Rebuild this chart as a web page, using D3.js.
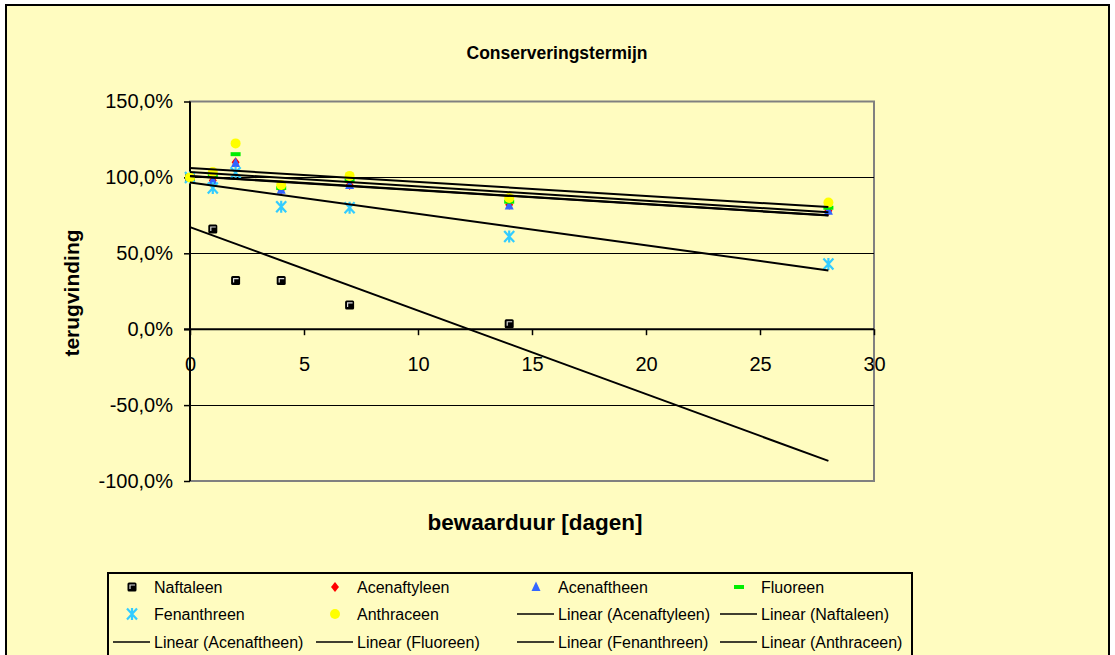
<!DOCTYPE html>
<html>
<head>
<meta charset="utf-8">
<script src="https://cdn.jsdelivr.net/npm/d3@7"></script>
<style>
  html, body { margin: 0; padding: 0; background: #ffffff; }
  svg { display: block; font-family: Arial, "Liberation Sans", sans-serif; }
</style>
</head>
<body>
<svg id="chart" width="1115" height="655"></svg>
<script>
// Storage time in days
const days = [0, 1, 2, 4, 7, 14, 28];

// Recovery (%) per compound
const naftaleen    = [100, 66, 32, 32, 16, 3.6, null];
const acenaftyleen = [100, 98, 110, 92, 95, 82, 78];
const acenaftheen  = [100, 98, 109.5, 91.8, 95, 81.5, 78];
const fluoreen     = [100, 101.6, 115.3, 93, 98, 84, 80];
const fenanthreen  = [100, 93, 103, 80.6, 80, 61, 43];
const anthraceen   = [100, 103.6, 122.4, 95, 101, 86.5, 83.4];

const xTicks = [0, 5, 10, 15, 20, 25, 30];
const yTicks = [-100, -50, 0, 50, 100, 150];

const series = [
  { name: "Naftaleen",    values: naftaleen,    color: "#000000", marker: "square" },
  { name: "Acenaftyleen", values: acenaftyleen, color: "#ff0000", marker: "diamond" },
  { name: "Acenaftheen",  values: acenaftheen,  color: "#3366ff", marker: "triangle" },
  { name: "Fluoreen",     values: fluoreen,     color: "#00ee00", marker: "dash" },
  { name: "Fenanthreen",  values: fenanthreen,  color: "#33ccff", marker: "star" },
  { name: "Anthraceen",   values: anthraceen,   color: "#ffff00", marker: "circle" }
];

const bg = "#fffcc0";
const font = "Arial, 'Liberation Sans', sans-serif";
const svg = d3.select("#chart");

// chart area with frame
svg.append("rect").attr("x", 6).attr("y", 5).attr("width", 1103).attr("height", 680)
  .attr("fill", bg).attr("stroke", "#000").attr("stroke-width", 2);

const x = d3.scaleLinear().domain([0, 30]).range([190, 874]);
const y = d3.scaleLinear().domain([-100, 150]).range([481, 101.5]);

// plot border (grey)
svg.append("rect").attr("x", x(0)).attr("y", y(150)).attr("width", x(30) - x(0)).attr("height", y(-100) - y(150))
  .attr("fill", bg).attr("stroke", "#808080").attr("stroke-width", 2);

// horizontal gridlines
svg.append("g").selectAll("line").data(yTicks.filter(v => v !== 150 && v !== -100 && v !== 0)).join("line")
  .attr("x1", x(0)).attr("x2", x(30))
  .attr("y1", d => Math.round(y(d)) + 0.5).attr("y2", d => Math.round(y(d)) + 0.5)
  .attr("stroke", "#000").attr("stroke-width", 1);

// y axis
const yAxis = d3.axisLeft(y).tickValues(yTicks).tickSize(6).tickPadding(11)
  .tickFormat(d => d.toFixed(1).replace(".", ",") + "%");
const gy = svg.append("g").attr("transform", `translate(${x(0)},0)`).call(yAxis);
gy.select(".domain").attr("stroke", "#000").attr("stroke-width", 2).attr("d", `M0,${y(150)}V${y(-100)}`);
gy.selectAll(".tick line").attr("stroke", "#000").attr("stroke-width", 1.5);
gy.selectAll(".tick text").attr("font-size", 20).attr("fill", "#000").attr("font-family", font);

// x axis crossing at 0 %
const xAxis = d3.axisBottom(x).tickValues(xTicks).tickSize(6).tickPadding(22);
const gx = svg.append("g").attr("transform", `translate(0,${y(0)})`).call(xAxis);
gx.select(".domain").attr("stroke", "#000").attr("stroke-width", 2).attr("d", `M${x(0) - 6},0H${x(30)}`);
gx.selectAll(".tick line").attr("stroke", "#000").attr("stroke-width", 1.5);
gx.selectAll(".tick text").attr("font-size", 20).attr("fill", "#000").attr("font-family", font);

// marker drawing
function drawMarker(g, type, color, cx, cy) {
  if (type === "square") {
    g.append("rect").attr("x", cx - 4.5).attr("y", cy - 4.5).attr("width", 9).attr("height", 9)
      .attr("rx", 1.5).attr("fill", "#000");
    g.append("path").attr("d", `M${cx - 2},${cy + 2}V${cy - 2}H${cx + 3}`)
      .attr("stroke", "#ddd").attr("stroke-width", 1.2).attr("fill", "none");
  } else if (type === "diamond") {
    g.append("path").attr("d", `M${cx},${cy - 5}L${cx + 4},${cy}L${cx},${cy + 5}L${cx - 4},${cy}Z`).attr("fill", color);
  } else if (type === "triangle") {
    g.append("path").attr("d", `M${cx},${cy - 5.5}L${cx + 4.5},${cy + 4}L${cx - 4.5},${cy + 4}Z`).attr("fill", color);
  } else if (type === "dash") {
    g.append("rect").attr("x", cx - 5).attr("y", cy - 2).attr("width", 10).attr("height", 4).attr("fill", color);
  } else if (type === "star") {
    g.append("path").attr("d",
      `M${cx - 5},${cy - 5.5}L${cx + 5},${cy + 5.5}M${cx + 5},${cy - 5.5}L${cx - 5},${cy + 5.5}M${cx},${cy - 6}V${cy + 6}`)
      .attr("stroke", color).attr("stroke-width", 2.2).attr("fill", "none");
  } else if (type === "circle") {
    g.append("circle").attr("cx", cx).attr("cy", cy).attr("r", 5).attr("fill", color);
  }
}

// data markers
const gm = svg.append("g");
series.forEach(s => {
  days.forEach((d, i) => {
    const v = s.values[i];
    if (v === null || v === undefined) return;
    drawMarker(gm, s.marker, s.color, x(d), y(v));
  });
});

// linear trendlines (least squares) over the storage-time range
function linearFit(xs, ys) {
  const pts = xs.map((v, i) => [v, ys[i]]).filter(p => p[1] !== null);
  const mx = d3.mean(pts, p => p[0]), my = d3.mean(pts, p => p[1]);
  const sxy = d3.sum(pts, p => (p[0] - mx) * (p[1] - my));
  const sxx = d3.sum(pts, p => (p[0] - mx) ** 2);
  const b = sxy / sxx;
  return { a: my - b * mx, b };
}
const gt = svg.append("g");
const x0 = d3.min(days), x1 = d3.max(days);
series.forEach(s => {
  const f = linearFit(days, s.values);
  gt.append("line")
    .attr("x1", x(x0)).attr("y1", y(f.a + f.b * x0))
    .attr("x2", x(x1)).attr("y2", y(f.a + f.b * x1))
    .attr("stroke", "#000").attr("stroke-width", 2);
});

// titles
svg.append("text").attr("x", 557).attr("y", 59).attr("text-anchor", "middle")
  .attr("font-size", 17.5).attr("font-weight", "bold").text("Conserveringstermijn");
svg.append("text").attr("x", 535).attr("y", 530).attr("text-anchor", "middle")
  .attr("font-size", 22.5).attr("font-weight", "bold").text("bewaarduur [dagen]");
svg.append("text").attr("transform", "translate(79,293) rotate(-90)").attr("text-anchor", "middle")
  .attr("font-size", 21).attr("font-weight", "bold").text("terugvinding");

// legend
const legend = svg.append("g");
legend.append("rect").attr("x", 108).attr("y", 573).attr("width", 804).attr("height", 100)
  .attr("fill", bg).attr("stroke", "#000").attr("stroke-width", 2);

const colX = [113, 316, 517, 720];
const rowY = [587, 614, 642];
const legendItems = [
  { label: "Naftaleen", s: series[0] },
  { label: "Acenaftyleen", s: series[1] },
  { label: "Acenaftheen", s: series[2] },
  { label: "Fluoreen", s: series[3] },
  { label: "Fenanthreen", s: series[4] },
  { label: "Anthraceen", s: series[5] },
  { label: "Linear (Acenaftyleen)" },
  { label: "Linear (Naftaleen)" },
  { label: "Linear (Acenaftheen)" },
  { label: "Linear (Fluoreen)" },
  { label: "Linear (Fenanthreen)" },
  { label: "Linear (Anthraceen)" }
];
legendItems.forEach((it, i) => {
  const cx = colX[i % 4], cy = rowY[Math.floor(i / 4)];
  if (it.s) {
    drawMarker(legend, it.s.marker, it.s.color, cx + 19, cy);
  } else {
    legend.append("line").attr("x1", cx).attr("x2", cx + 37).attr("y1", cy).attr("y2", cy)
      .attr("stroke", "#000").attr("stroke-width", 1.5);
  }
  legend.append("text").attr("x", cx + 41).attr("y", cy).attr("dy", "0.35em")
    .attr("font-size", 16).attr("fill", "#000").text(it.label);
});
</script>
</body>
</html>
